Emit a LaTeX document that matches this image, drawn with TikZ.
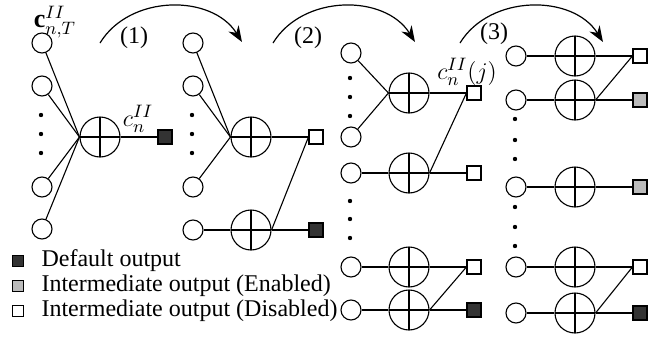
\documentclass[tikz,border=0pt]{standalone}
\usepackage{fontspec}
\setmainfont{Liberation Serif}
\usetikzlibrary{arrows.meta}
\definecolor{darkbox}{HTML}{333333}
\definecolor{lightbox}{HTML}{BBBBBB}
\begin{document}
\begin{tikzpicture}[x=0.5pt,y=-0.5pt,line width=0.55pt,
  every node/.style={font=\fontsize{12}{14}\selectfont},
  mathlabel/.style={font=\fontsize{13}{15}\selectfont,inner sep=0pt},
  inp/.style={circle,draw,minimum size=10pt,inner sep=0pt},
  summer/.style={circle,draw,minimum size=20pt,inner sep=0pt,
    path picture={\draw (path picture bounding box.north) -- (path picture bounding box.south)
      (path picture bounding box.west) -- (path picture bounding box.east);}},
  outsq/.style={rectangle,draw,minimum size=7pt,inner sep=0pt},
  dflt/.style={outsq,fill=darkbox},
  enab/.style={outsq,fill=lightbox},
  disab/.style={outsq,fill=white},
  legsq/.style={rectangle,draw,minimum size=5.2pt,inner sep=0pt},
  dotn/.style={circle,fill,minimum size=2.2pt,inner sep=0pt},
  bigarrow/.style={-{Stealth[length=8pt,width=6pt]},line width=0.6pt}]
\useasboundingbox (0,0) rectangle (665,338);

% ---------- column 1 ----------
\node[inp] (i11) at (42,43) {};
\node[inp] (i12) at (42,86) {};
\node[inp] (i13) at (42,187) {};
\node[inp] (i14) at (42,229) {};
\node[dotn] (d11) at (41,115) {};
\node[dotn] (d12) at (41,134) {};
\node[dotn] (d13) at (41,153) {};
\node[summer] (s11) at (100,137) {};
\node[dflt] (o11) at (165,137) {};
\foreach \k in {i11,i12,i13,i14} \draw (\k) -- (s11.west);
\draw (s11.east) -- (o11);
\node[mathlabel] (lt) at (55,22) {$\mathbf{c}^{II}_{n,T}$};
\node[mathlabel] (lc) at (138,119) {$c^{II}_{n}$};

% ---------- column 2 ----------
\node[inp] (i21) at (193,43) {};
\node[inp] (i22) at (193,86) {};
\node[inp] (i23) at (193,187) {};
\node[inp] (i24) at (193,230) {};
\node[dotn] (d21) at (192,115) {};
\node[dotn] (d22) at (192,134) {};
\node[dotn] (d23) at (192,153) {};
\node[summer] (s21) at (251,137) {};
\node[summer] (s22) at (251,230) {};
\node[disab] (o21) at (316,137) {};
\node[dflt] (o22) at (316,230) {};
\foreach \k in {i21,i22,i23} \draw (\k) -- (s21.west);
\draw (s21.east) -- (o21);
\draw (i24) -- (s22.west);
\draw (s22.east) -- (o22);
\draw (s22.east) -- (o21.west);

% ---------- column 3 ----------
\node[inp] (i31) at (351,53) {};
\node[inp] (i32) at (351,137) {};
\node[inp] (i33) at (351,173) {};
\node[inp] (i34) at (351,267) {};
\node[inp] (i35) at (351,310) {};
\node[dotn] (d31) at (350,78) {};
\node[dotn] (d32) at (350,97) {};
\node[dotn] (d33) at (350,116) {};
\node[dotn] (d34) at (350,201) {};
\node[dotn] (d35) at (350,219) {};
\node[dotn] (d36) at (350,238) {};
\node[summer] (s31) at (409,93) {};
\node[summer] (s32) at (409,173) {};
\node[summer] (s33) at (409,267) {};
\node[summer] (s34) at (409,310) {};
\node[disab] (o31) at (474,93) {};
\node[disab] (o32) at (474,173) {};
\node[disab] (o33) at (474,267) {};
\node[dflt] (o34) at (474,310) {};
\draw (i31) -- (s31.west);
\draw (i32) -- (s31.west);
\draw (s31.east) -- (o31);
\draw (i33) -- (s32.west);
\draw (s32.east) -- (o32);
\draw (s32.east) -- (o31.west);
\draw (i34) -- (s33.west);
\draw (s33.east) -- (o33);
\draw (i35) -- (s34.west);
\draw (s34.east) -- (o34);
\draw (s34.east) -- (o33.west);
\node[mathlabel] (lj) at (467,72) {$c^{II}_{n}(j)$};

% ---------- column 4 ----------
\node[inp] (i41) at (516,56) {};
\node[inp] (i42) at (516,100) {};
\node[inp] (i43) at (516,187) {};
\node[inp] (i44) at (516,267) {};
\node[inp] (i45) at (516,313) {};
\node[dotn] (d41) at (515,119) {};
\node[dotn] (d42) at (515,140) {};
\node[dotn] (d43) at (515,159) {};
\node[dotn] (d44) at (515,207) {};
\node[dotn] (d45) at (515,227) {};
\node[dotn] (d46) at (515,246) {};
\node[summer] (s41) at (575,56) {};
\node[summer] (s42) at (575,100) {};
\node[summer] (s43) at (575,187) {};
\node[summer] (s44) at (575,267) {};
\node[summer] (s45) at (575,313) {};
\node[disab] (o41) at (640,56) {};
\node[enab] (o42) at (640,100) {};
\node[enab] (o43) at (640,187) {};
\node[disab] (o44) at (640,267) {};
\node[dflt] (o45) at (640,313) {};
\foreach \n in {1,...,5} {
  \draw (i4\n) -- (s4\n.west);
  \draw (s4\n.east) -- (o4\n);
}
\draw (s42.east) -- (o41.west);
\draw (s45.east) -- (o44.west);

% ---------- step arrows ----------
\coordinate (a1s) at (100,43);
\coordinate (a1e) at (242,42);
\coordinate (a2s) at (273,43);
\coordinate (a2e) at (415,42);
\coordinate (a3s) at (460,43);
\coordinate (a3e) at (603,42);
\draw[bigarrow] (a1s) .. controls (130,-6) and (212,-6) .. (a1e);
\draw[bigarrow] (a2s) .. controls (303,-6) and (385,-6) .. (a2e);
\draw[bigarrow] (a3s) .. controls (490,-6) and (573,-6) .. (a3e);
\node (l1) at (134,38) {(1)};
\node (l2) at (308,38) {(2)};
\node (l3) at (494,34) {(3)};

% ---------- legend ----------
\node[legsq,fill=darkbox] (g1) at (18,261) {};
\node[legsq,fill=lightbox] (g2) at (18,286) {};
\node[legsq,fill=white] (g3) at (18,311) {};
\node[anchor=west,inner sep=0pt] (t1) at (41,261) {Default output};
\node[anchor=west,inner sep=0pt] (t2) at (41,286) {Intermediate output (Enabled)};
\node[anchor=west,inner sep=0pt] (t3) at (41,311) {Intermediate output (Disabled)};
\end{tikzpicture}
\end{document}
